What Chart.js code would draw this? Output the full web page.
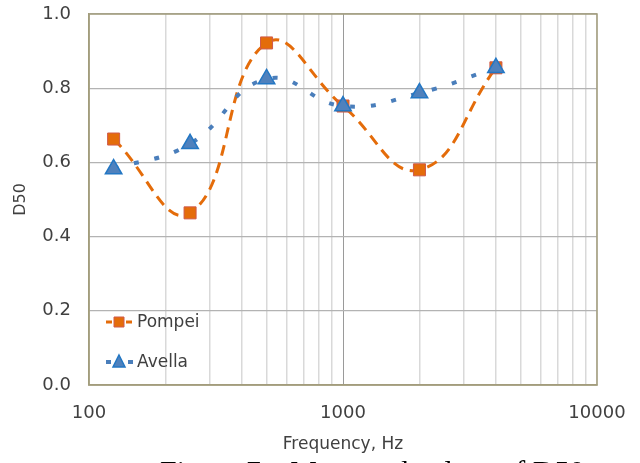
<!DOCTYPE html>
<html lang="en">
<head>
  <meta charset="UTF-8" />
  <title>D50 vs Frequency</title>
  <script src="https://cdn.jsdelivr.net/npm/chart.js"></script>
  <style>
    html, body {
      margin: 0;
      padding: 0;
      background: #fff;
      overflow: hidden;
    }
    .wrap {
      position: relative;
      width: 640px;
      height: 463px;
      overflow: hidden;
    }
    .caption {
      position: absolute;
      left: 160px;
      top: 456px;
      font-family: "Liberation Serif", serif;
      font-size: 30px;
      line-height: 30px;
      color: #000;
      white-space: nowrap;
    }
    .caption span { margin-left: 22px; }
  </style>
</head>
<body>
  <div class="wrap">
    <canvas id="chart"></canvas>
    <div class="caption">Figure 7.<span>Measured values of D50</span></div>
  </div>
  <script>
const frequencies = [125, 250, 500, 1000, 2000, 4000];
const pompei = [0.663, 0.464, 0.922, 0.752, 0.580, 0.855];
const avella = [0.582, 0.650, 0.825, 0.752, 0.787, 0.855];
const xTickValues = [100, 200, 300, 400, 500, 600, 700, 800, 900,
  1000, 2000, 3000, 4000, 5000, 6000, 7000, 8000, 9000, 10000];
const xLabels = [100, 1000, 10000];

const TEXT = '#404040';
const FONT = '"DejaVu Sans", Verdana, sans-serif';

function toPoints(ys) {
  return frequencies.map((f, i) => ({ x: f, y: ys[i] }));
}

// legend sits inside the plot, lower left
const innerLegend = {
  id: 'innerLegend',
  afterDraw(chart) {
    const ctx = chart.ctx;
    const items = [
      { ds: chart.data.datasets[0], y: 322 },
      { ds: chart.data.datasets[1], y: 362 }
    ];
    items.forEach(it => {
      const ds = it.ds;
      ctx.save();
      ctx.strokeStyle = ds.borderColor;
      ctx.lineWidth = ds.borderWidth;
      ctx.setLineDash(ds.legendDash);
      ctx.beginPath();
      ctx.moveTo(106, it.y);
      ctx.lineTo(133, it.y);
      ctx.stroke();
      ctx.setLineDash([]);
      ctx.fillStyle = ds.pointBackgroundColor;
      ctx.strokeStyle = ds.pointBorderColor;
      ctx.lineWidth = ds.pointBorderWidth;
      ctx.beginPath();
      if (ds.pointStyle === 'rect') {
        ctx.rect(119 - 5, it.y - 5, 10, 10);
      } else {
        ctx.moveTo(119, it.y - 7);
        ctx.lineTo(119 + 6, it.y + 5);
        ctx.lineTo(119 - 6, it.y + 5);
        ctx.closePath();
      }
      ctx.fill();
      ctx.stroke();
      ctx.fillStyle = TEXT;
      ctx.font = '17px ' + FONT;
      ctx.textBaseline = 'middle';
      ctx.textAlign = 'left';
      ctx.fillText(ds.label, 137, it.y + 1);
      ctx.restore();
    });
  }
};

// tan frame around the plot area
const frame = {
  id: 'frame',
  beforeDatasetsDraw(chart) {
    const a = chart.chartArea;
    const ctx = chart.ctx;
    ctx.save();
    ctx.strokeStyle = '#a39d7c';
    ctx.lineWidth = 1.5;
    ctx.strokeRect(a.left, a.top, a.right - a.left, a.bottom - a.top);
    ctx.restore();
  }
};

new Chart(document.getElementById('chart'), {
  type: 'line',
  data: {
    datasets: [
      {
        label: 'Pompei',
        data: toPoints(pompei),
        borderColor: '#e46c0a',
        borderWidth: 3,
        borderDash: [11, 7],
        legendDash: [6, 4],
        tension: 0.45,
        pointStyle: 'rect',
        pointRadius: 8.5,
        pointBackgroundColor: '#e46c0a',
        pointBorderColor: '#d05a4a',
        pointBorderWidth: 1,
        order: 2
      },
      {
        label: 'Avella',
        data: toPoints(avella),
        borderColor: '#4a7ebb',
        borderWidth: 4,
        borderDash: [5, 16],
        legendDash: [5, 6],
        tension: 0.45,
        pointStyle: 'triangle',
        pointRadius: 9.5,
        pointBackgroundColor: '#4f81bd',
        pointBorderColor: '#2377c4',
        pointBorderWidth: 1.5,
        order: 1
      }
    ]
  },
  options: {
    responsive: true,
    maintainAspectRatio: false,
    animation: false,
    layout: { autoPadding: false, padding: { left: 0, right: 43, top: 14, bottom: 0 } },
    plugins: {
      legend: { display: false },
      tooltip: { enabled: false }
    },
    scales: {
      x: {
        type: 'logarithmic',
        min: 100,
        max: 10000,
        afterBuildTicks(scale) {
          scale.ticks = xTickValues.map(v => ({ value: v, major: xLabels.includes(v) }));
        },
        afterFit(scale) {
          scale.height = 78;
          scale.paddingLeft = 0;
          scale.paddingRight = 0;
        },
        ticks: {
          autoSkip: false,
          maxRotation: 0,
          padding: 18,
          color: TEXT,
          font: { family: FONT, size: 18 },
          callback: v => xLabels.includes(v) ? String(v) : ''
        },
        grid: {
          drawTicks: false,
          lineWidth: ctx => (ctx.tick && ctx.tick.value === 1000) ? 1 : 1.5,
          color: ctx => (ctx.tick && ctx.tick.value === 1000) ? '#9a9a9a' : '#d9d9d9'
        },
        border: { color: '#a39d7c', width: 1.5 },
        title: {
          display: true,
          text: 'Frequency, Hz',
          color: TEXT,
          font: { family: FONT, size: 17 },
          padding: { top: 0, bottom: 8 }
        }
      },
      y: {
        min: 0,
        max: 1,
        afterFit(scale) {
          scale.width = 89;
          scale.paddingTop = 0;
          scale.paddingBottom = 0;
        },
        ticks: {
          stepSize: 0.2,
          padding: 18,
          color: TEXT,
          font: { family: FONT, size: 18 },
          callback: v => v.toFixed(1)
        },
        grid: {
          drawTicks: false,
          color: '#b3b3b3',
          lineWidth: 1.2
        },
        border: { color: '#a39d7c', width: 1.5 },
        title: {
          display: true,
          text: 'D50',
          color: TEXT,
          font: { family: FONT, size: 16 },
          padding: { top: 11, bottom: 0 }
        }
      }
    }
  },
  plugins: [frame, innerLegend]
});
  </script>
</body>
</html>
